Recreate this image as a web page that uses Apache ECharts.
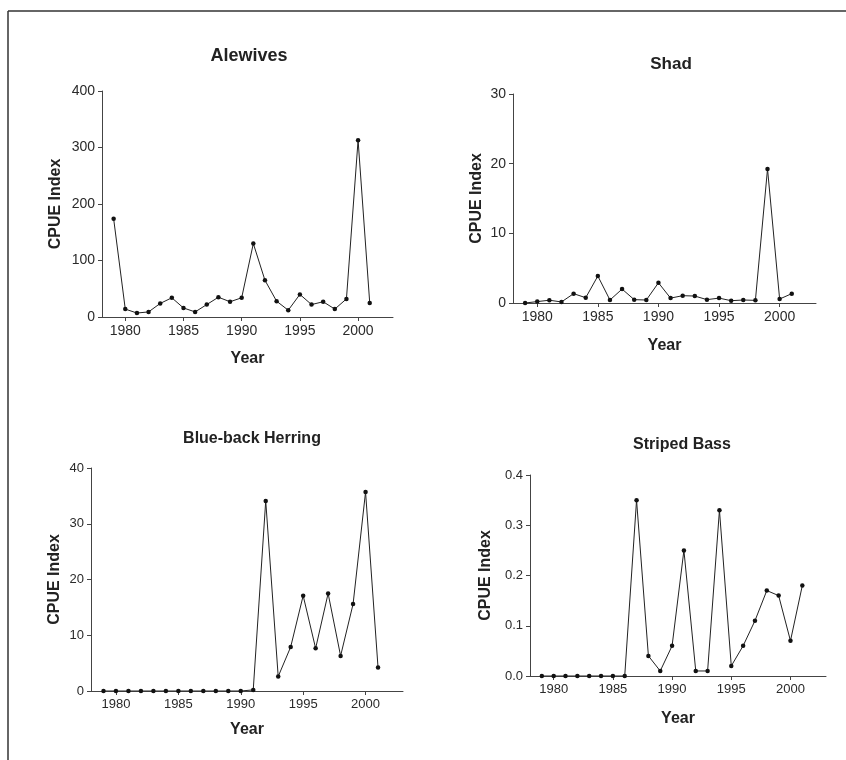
<!DOCTYPE html>
<html>
<head>
<meta charset="utf-8">
<script src="https://cdn.jsdelivr.net/npm/echarts@6/dist/echarts.min.js"></script>
<style>
html,body{margin:0;padding:0;background:#fff;}
#c{width:846px;height:760px;}
</style>
</head>
<body>
<div id="c"></div>
<script>
const years = [1979,1980,1981,1982,1983,1984,1985,1986,1987,1988,1989,1990,1991,1992,1993,1994,1995,1996,1997,1998,1999,2000,2001];
const alewives = [174,14,7,9,24,34,16,9,22,35,27,34,130,65,28,12,40,22,27,14,32,313,25];
const shad = [0,0.2,0.4,0.15,1.34,0.76,3.87,0.43,2.0,0.48,0.43,2.9,0.7,1.05,1.0,0.48,0.7,0.33,0.43,0.38,19.25,0.57,1.34];
const herring = [0,0,0,0,0,0,0,0,0,0,0,0,0.2,34.1,2.6,7.9,17.1,7.65,17.5,6.3,15.6,35.7,4.2];
const bass = [0,0,0,0,0,0,0,0,0.35,0.04,0.01,0.06,0.25,0.01,0.01,0.33,0.02,0.06,0.11,0.17,0.16,0.07,0.18];
const yearTicks = [1980,1985,1990,1995,2000];
const titles = ['Alewives','Shad','Blue-back Herring','Striped Bass'];

const ink = '#222';
const font = 'Liberation Sans, Arial, Helvetica, sans-serif';

const panels = [
  {data: alewives, grid:{left:102, right:453, top:91, bottom:443}, ymax:400, yint:100, title:{x:244,y:42,size:18}, lab:14, xGap:34, yGap:38, dec:0},
  {data: shad, grid:{left:513, right:30, top:94, bottom:457}, ymax:30, yint:10, title:{x:666,y:51,size:17}, lab:14, xGap:35, yGap:28, dec:0},
  {data: herring, grid:{left:91, right:443, top:468, bottom:69}, ymax:40, yint:10, title:{x:247,y:426,size:16}, lab:13, xGap:31, yGap:28, dec:0},
  {data: bass, grid:{left:530, right:20, top:475, bottom:84}, ymax:0.4, yint:0.1, title:{x:677,y:432,size:16}, lab:13, xGap:35, yGap:36, dec:1}
];

const option = {
  backgroundColor:'#fff',
  animation:false,
  title: panels.map((p,i)=>({
    text: titles[i], left: p.title.x, top: p.title.y, textAlign:'center',
    textStyle:{fontFamily:font, fontWeight:'bold', fontSize:p.title.size, color:ink}
  })),
  grid: panels.map(p=>Object.assign({containLabel:false}, p.grid)),
  xAxis: panels.map((p,i)=>({
    type:'value', gridIndex:i, min:1978, max:2003,
    name:'Year', nameLocation:'middle', nameGap:p.xGap,
    nameTextStyle:{fontFamily:font, fontWeight:'bold', fontSize:16, color:ink},
    axisLine:{show:true, lineStyle:{color:'#444', width:1}},
    axisTick:{show:true, inside:false, length:4, customValues:yearTicks, lineStyle:{color:'#444'}},
    axisLabel:{customValues:yearTicks, fontFamily:font, fontSize:p.lab, color:'#2a2a2a', margin:7,
      formatter: v => String(v)},
    splitLine:{show:false}
  })),
  yAxis: panels.map((p,i)=>({
    type:'value', gridIndex:i, min:0, max:p.ymax, interval:p.yint,
    name:'CPUE Index', nameLocation:'middle', nameGap:p.yGap,
    nameTextStyle:{fontFamily:font, fontWeight:'bold', fontSize:16, color:ink},
    axisLine:{show:true, lineStyle:{color:'#444', width:1}},
    axisTick:{show:true, inside:false, length:4, lineStyle:{color:'#444'}},
    axisLabel:{fontFamily:font, fontSize:p.lab, color:'#2a2a2a', margin:7,
      formatter: v => (+v).toFixed(p.dec)},
    splitLine:{show:false}
  })),
  series: panels.map((p,i)=>({
    type:'line', xAxisIndex:i, yAxisIndex:i,
    data: years.map((y,k)=>[y, p.data[k]]),
    symbol:'circle', symbolSize:4.5, showSymbol:true,
    lineStyle:{color:'#222', width:1},
    itemStyle:{color:'#111'},
    z:3
  })),
  graphic:[
    {type:'line', shape:{x1:8, y1:11, x2:846, y2:11}, style:{stroke:'#333', lineWidth:1.5}},
    {type:'line', shape:{x1:8, y1:11, x2:8, y2:760}, style:{stroke:'#333', lineWidth:1.5}}
  ]
};

const chart = echarts.init(document.getElementById('c'), null, {renderer:'canvas'});
chart.setOption(option);
</script>
</body>
</html>
